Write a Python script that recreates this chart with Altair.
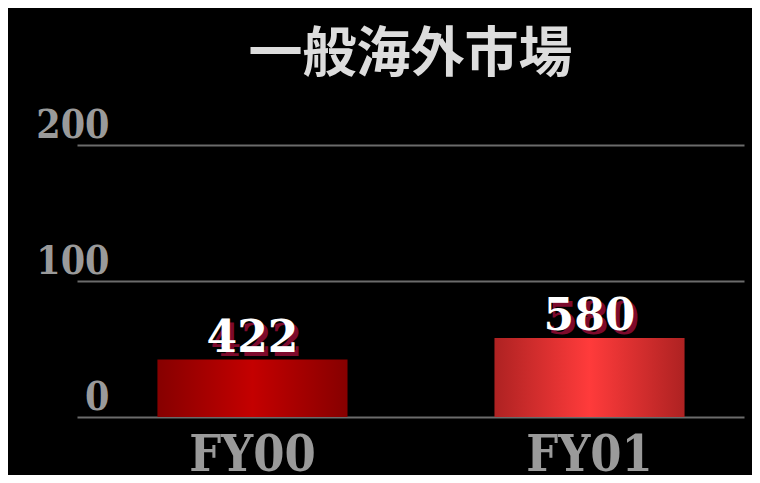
import altair as alt
import pandas as pd

categories = ["FY00", "FY01"]
values = [42.2, 58.0]
labels = ["422", "580"]
y_ticks = [0, 100, 200]

df = pd.DataFrame({"cat": categories, "val": values, "lbl": labels})

AXFONT = "DejaVu Serif Condensed, DejaVu Serif"

x_enc = alt.X("cat:N", sort=categories, title=None,
              scale=alt.Scale(paddingInner=0.436, paddingOuter=0.2075, align=0.575),
              axis=alt.Axis(labelFont=AXFONT, labelFontSize=50, labelColor="#9a9a9a",
                            labelFontWeight="bold", labelAngle=0, labelPadding=13,
                            domain=False, ticks=False, grid=False))
y_enc = alt.Y("val:Q", title=None,
              scale=alt.Scale(domain=[0, 200]),
              axis=alt.Axis(values=y_ticks, labelFont=AXFONT, labelFontSize=39,
                            labelColor="#9a9a9a", labelFontWeight="bold",
                            labelAlign="right", labelBaseline="alphabetic",
                            labelPadding=-32, labelOffset=-8,
                            domain=False, ticks=False, grid=True,
                            gridColor="#6b6b6b", gridWidth=2))

def grad(edge, center):
    return alt.Gradient(gradient="linear", x1=0, x2=1, y1=0, y2=0,
                        stops=[alt.GradientStop(color=edge, offset=0),
                               alt.GradientStop(color=center, offset=0.5),
                               alt.GradientStop(color=edge, offset=1)])

base = alt.Chart(df)
bar0 = base.transform_filter(alt.datum.cat == "FY00").mark_bar(
    color=grad("#860000", "#c40000")).encode(x=x_enc, y=y_enc)
bar1 = base.transform_filter(alt.datum.cat == "FY01").mark_bar(
    color=grad("#ae2222", "#ff3b3b")).encode(x=x_enc, y=y_enc)

shadow = base.mark_text(font="DejaVu Serif", fontSize=44, fontWeight="bold",
                        color="#7d0a2c", baseline="alphabetic", dx=4, dy=-4).encode(
    x=x_enc, y=y_enc, text="lbl:N")
text = base.mark_text(font="DejaVu Serif", fontSize=44, fontWeight="bold",
                      color="#ffffff", baseline="alphabetic", dy=-8).encode(
    x=x_enc, y=y_enc, text="lbl:N")

chart = alt.layer(bar0, bar1, shadow, text).properties(
    width=667, height=272,
    title=alt.TitleParams("一般海外市場", font="Noto Sans CJK JP", fontSize=54,
                          fontWeight="bold", color="#dddddd", anchor="middle", offset=23),
    background="#000000",
    padding={"left": 69, "top": 137, "right": 8, "bottom": 58},
    autosize=alt.AutoSizeParams(type="none"),
).configure_view(stroke=None)

chart.save("out.html", embed_options={"renderer": "svg", "actions": False})
